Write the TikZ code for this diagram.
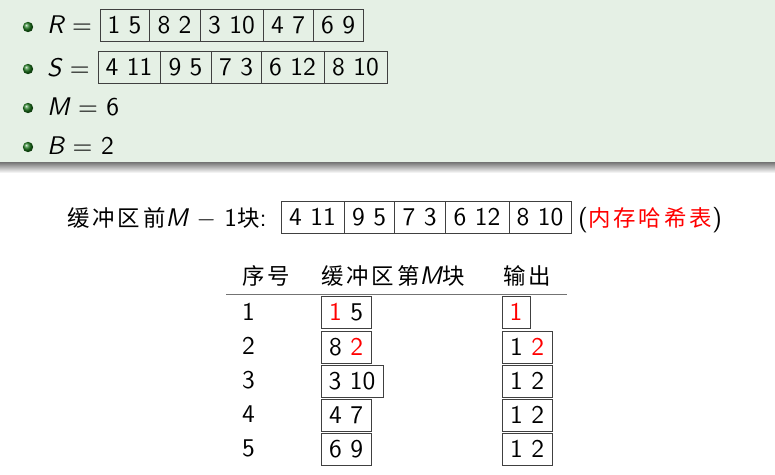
\documentclass[tikz,border=0pt]{standalone}
\usepackage{fontspec}
\setsansfont{lmsans10-regular.otf}[ItalicFont=lmsans10-oblique.otf]
\newfontfamily\cjk[Scale=0.88,LetterSpace=13]{Noto Sans CJK SC}
\definecolor{bg}{HTML}{E5F0E5}
\definecolor{ballgreen}{HTML}{1E7A1E}
\newcommand{\cellbox}[5]{\node[cellnode, minimum width={#3pt-#2pt}] (#1) at ({(#2+#3)/2},#4) {#5};}
\begin{document}
\begin{tikzpicture}[x=1pt,y=-1pt,
  every node/.style={font=\sffamily\fontsize{25.5}{30}\selectfont, inner sep=0pt},
  cellnode/.style={draw=black!75, line width=0.8pt, minimum height=32pt, inner sep=0pt},
  txt/.style={anchor=base west},
  bul/.style={ball color=ballgreen}]
\useasboundingbox (0,0) rectangle (775,474);
\fill[white] (0,0) rectangle (775,474);
% top block
\fill[bg] (0,0) rectangle (775,162);
\shade[top color=black!55, bottom color=white] (0,162) rectangle (775,173);
\shade[bul] (28,27) circle (5.2);
\shade[bul] (28,69) circle (5.2);
\shade[bul] (28,108) circle (5.2);
\shade[bul] (28,147) circle (5.2);
\node[txt] (rlab) at (47,33) {{\itshape R} =};
\node[txt] (slab) at (47,76) {{\itshape S} =};
\node[txt] (mlab) at (47,115) {{\itshape M} = 6};
\node[txt] (blab) at (47,154) {{\itshape B} = 2};
\cellbox{r1}{100}{149}{25}{1 5}
\cellbox{r2}{149}{200}{25}{8 2}
\cellbox{r3}{200}{263}{25}{3 10}
\cellbox{r4}{263}{313}{25}{4 7}
\cellbox{r5}{313}{363}{25}{6 9}
\cellbox{s1}{98}{160}{67}{4 11}
\cellbox{s2}{160}{211}{67}{9 5}
\cellbox{s3}{211}{261}{67}{7 3}
\cellbox{s4}{261}{324}{67}{6 12}
\cellbox{s5}{324}{387}{67}{8 10}
% middle line
\node[txt] (mid) at (67,226) {{\cjk 缓冲区前}{\itshape M} $-$ 1{\cjk 块}:};
\cellbox{h1}{281}{344}{217}{4 11}
\cellbox{h2}{344}{394}{217}{9 5}
\cellbox{h3}{394}{445}{217}{7 3}
\cellbox{h4}{445}{509}{217}{6 12}
\cellbox{h5}{509}{571}{217}{8 10}
\node[txt] (memo) at (578,226) {(\textcolor{red}{\cjk 内存哈希表})};
% table header
\node[txt] (th1) at (242,284) {\cjk 序号};
\node[txt] (th2) at (321,284) {{\cjk 缓冲区第}{\itshape M}{\cjk 块}};
\node[txt] (th3) at (503,284) {\cjk 输出};
\draw[black!55, line width=1pt] (226,294) -- (567,294);
% rows
\node[txt] (n1) at (242,320) {1};
\node[txt] (n2) at (242,354) {2};
\node[txt] (n3) at (242,388) {3};
\node[txt] (n4) at (242,422) {4};
\node[txt] (n5) at (242,456) {5};
\cellbox{b1}{321}{371}{312}{\textcolor{red}{1} 5}
\cellbox{b2}{321}{371}{347}{8 \textcolor{red}{2}}
\cellbox{b3}{321}{383}{381}{3 10}
\cellbox{b4}{321}{371}{415}{4 7}
\cellbox{b5}{321}{371}{449}{6 9}
\cellbox{o1}{502}{530}{312}{\textcolor{red}{1}}
\cellbox{o2}{502}{552}{347}{1 \textcolor{red}{2}}
\cellbox{o3}{502}{552}{381}{1 2}
\cellbox{o4}{502}{552}{415}{1 2}
\cellbox{o5}{502}{552}{449}{1 2}
\end{tikzpicture}
\end{document}
